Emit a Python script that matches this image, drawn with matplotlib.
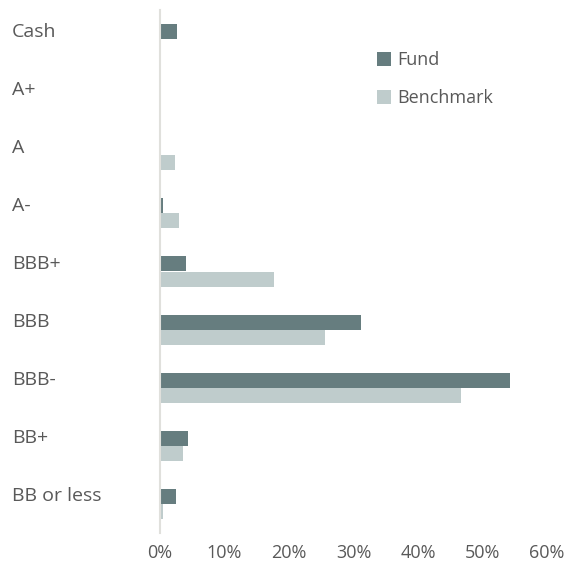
import matplotlib.pyplot as plt
import matplotlib.transforms as mtransforms
import numpy as np

categories = ["Cash", "A+", "A", "A-", "BBB+", "BBB", "BBB-", "BB+", "BB or less"]
fund = [2.6, 0.0, 0.0, 0.5, 4.0, 31.2, 54.2, 4.4, 2.5]
benchmark = [0.0, 0.0, 2.3, 3.0, 17.7, 25.6, 46.7, 3.6, 0.4]
xticks = [0, 10, 20, 30, 40, 50, 60]

plt.rcParams['font.family'] = ['Open Sans', 'DejaVu Sans']
text_col = '#595959'
fund_col = '#667d7f'
bench_col = '#bfcccc'

fig = plt.figure(figsize=(5.66, 5.69), dpi=100)
ax = fig.add_axes([160 / 566, 1 - 533 / 569, 387 / 566, 523 / 569])

y = np.arange(len(categories))
h = 0.26
ax.barh(y - h / 2, fund, height=h, color=fund_col, label='Fund')
ax.barh(y + h / 2, benchmark, height=h, color=bench_col, label='Benchmark')

ax.set_xlim(0, 60)
ax.set_ylim(len(categories) - 0.5, -0.5)
ax.set_xticks(xticks)
ax.set_xticklabels([f"{t}%" for t in xticks])
ax.set_yticks([])
ax.tick_params(axis='x', length=0, pad=8, labelsize=13, labelcolor=text_col)

# category labels, left aligned near the figure edge
trans = mtransforms.blended_transform_factory(fig.transFigure, ax.transData)
for yi, cat in zip(y, categories):
    ax.text(12 / 566, yi - h / 2, cat, transform=trans, ha='left', va='center',
            fontsize=14, color=text_col)

for s in ['top', 'right', 'bottom']:
    ax.spines[s].set_visible(False)
ax.spines['left'].set_color('#e0e0dc')
ax.spines['left'].set_linewidth(1.5)

leg = ax.legend(loc='upper left', bbox_to_anchor=(0.52, 0.952), frameon=False,
                fontsize=13, labelspacing=1.1, handlelength=0.75, handleheight=0.75,
                handletextpad=0.35)
for t in leg.get_texts():
    t.set_color(text_col)

fig.savefig('out.png', dpi=100)
